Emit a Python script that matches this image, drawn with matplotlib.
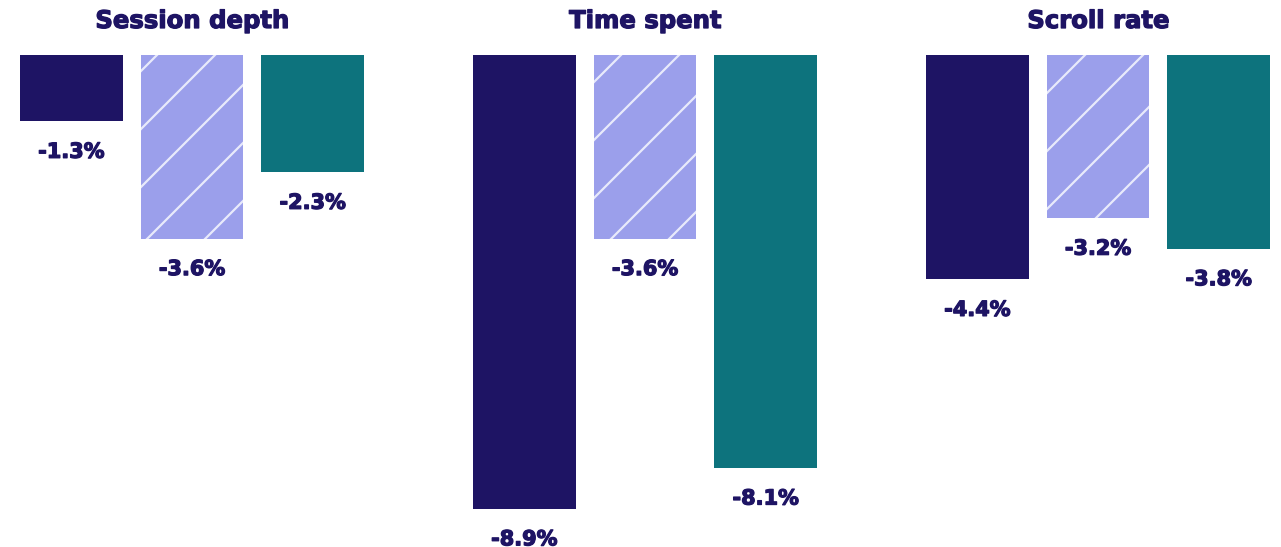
import matplotlib
matplotlib.use("Agg")
import matplotlib.pyplot as plt
import matplotlib.patheffects as pe
from matplotlib.lines import Line2D
from matplotlib.transforms import IdentityTransform

# data
metrics = ["Session depth", "Time spent", "Scroll rate"]
series_a = [-1.3, -8.9, -4.4]
series_b = [-3.6, -3.6, -3.2]
series_c = [-2.3, -8.1, -3.8]

colors = ["#1E1464", "#9B9FEB", "#0D737D"]
txt = "#1E1464"
plt.rcParams['font.family'] = ['DejaVu Sans']
heavy = [pe.withStroke(linewidth=0.9, foreground=txt)]

W, H = 1281, 547
fig = plt.figure(figsize=(W / 100, H / 100), dpi=100)
lefts = [11, 464, 917]

for i, name in enumerate(metrics):
    ax = fig.add_axes([lefts[i] / W, 0, 362 / W, (H - 55) / H])
    vals = [series_a[i], series_b[i], series_c[i]]
    bars = ax.bar(range(3), vals, width=0.85, color=colors)
    ax.set_xlim(-0.5, 2.5)
    ax.set_ylim(-9.65, 0)
    ax.axis('off')
    for b, v in zip(bars, vals):
        ax.annotate(f"{v:.1f}%", (b.get_x() + b.get_width() / 2, v),
                    xytext=(0, -22), textcoords='offset points',
                    ha='center', va='center', fontsize=15,
                    fontweight='bold', color=txt, path_effects=heavy)
    fig.text((lefts[i] + 181) / W, 1 - 21 / H, name, ha='center', va='center',
             fontsize=17.5, fontweight='bold', color=txt, path_effects=heavy)

    # hatch stripes on the middle bar (wide spacing, drawn by hand)
    hb = bars[1]
    (x0, y0), (x1, y1) = ax.transData.transform(
        [[hb.get_x(), vals[1]], [hb.get_x() + hb.get_width(), 0]])
    c = 335
    while c > y0 - x1:
        c -= 58
    while c < y1 - x0:
        ln = Line2D([x0, x1], [x0 + c, x1 + c], transform=IdentityTransform(),
                    color="#E8EAFB", lw=1.6)
        ln.set_clip_path(hb)
        fig.add_artist(ln)
        c += 58

fig.savefig("out.png", dpi=100)
